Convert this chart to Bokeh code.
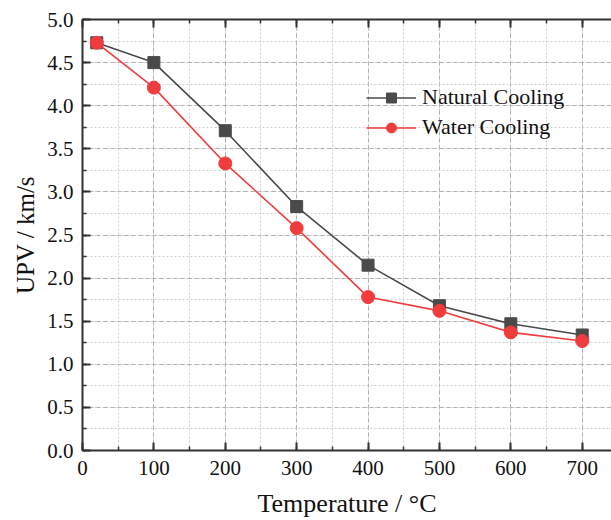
from bokeh.plotting import figure
from bokeh.models import (LinearAxis, Range1d, SingleIntervalTicker, Legend, LegendItem,
                          NumeralTickFormatter, CustomJSTickFormatter)
from bokeh.embed import file_html
from bokeh.resources import INLINE

temperature = [20, 100, 200, 300, 400, 500, 600, 700]
natural_cooling = [4.73, 4.50, 3.71, 2.83, 2.15, 1.68, 1.47, 1.34]
water_cooling = [4.73, 4.21, 3.33, 2.58, 1.78, 1.62, 1.37, 1.27]
series_names = ["Natural Cooling", "Water Cooling"]

FONT = "Liberation Serif"

p = figure(width=611, height=520, output_backend="svg", toolbar_location=None,
           x_range=Range1d(0, 741), y_range=Range1d(0, 5),
           min_border_left=82, min_border_right=0, min_border_top=19, min_border_bottom=68)
p.outline_line_color = None
p.background_fill_color = "white"

p.xaxis.ticker = SingleIntervalTicker(interval=100, num_minor_ticks=2)
p.yaxis.ticker = SingleIntervalTicker(interval=0.5, num_minor_ticks=2)
p.yaxis.formatter = NumeralTickFormatter(format="0.0")

for ax in (p.xaxis[0], p.yaxis[0]):
    ax.axis_line_width = 2
    ax.axis_line_color = "#333333"
    ax.major_tick_line_color = "#333333"
    ax.minor_tick_line_color = "#333333"
    ax.major_tick_line_width = 2
    ax.minor_tick_line_width = 1.5
    ax.major_tick_in = 8
    ax.major_tick_out = 0
    ax.minor_tick_in = 4
    ax.minor_tick_out = 0
    ax.major_label_text_font = FONT
    ax.major_label_text_font_size = "21px"
    ax.major_label_text_color = "#111111"
    ax.axis_label_text_font = FONT
    ax.axis_label_text_font_style = "normal"
    ax.axis_label_text_color = "#111111"

p.xaxis.axis_label = "Temperature / °C"
p.yaxis.axis_label = "UPV / km/s"
p.xaxis.axis_label_text_font_size = "26px"
p.yaxis.axis_label_text_font_size = "25px"
p.xaxis.major_label_standoff = 10
p.yaxis.major_label_standoff = 9
p.xaxis.axis_label_standoff = 11
p.yaxis.axis_label_standoff = 5

top = LinearAxis(ticker=SingleIntervalTicker(interval=100, num_minor_ticks=2),
                 formatter=CustomJSTickFormatter(code="return ''"),
                 axis_line_width=2, axis_line_color="#333333",
                 major_tick_in=8, major_tick_out=0, minor_tick_in=4, minor_tick_out=0,
                 major_tick_line_width=2, minor_tick_line_width=1.5,
                 major_tick_line_color="#333333", minor_tick_line_color="#333333",
                 major_label_standoff=0, major_label_text_font_size="1px")
p.add_layout(top, "above")

for g in (p.xgrid[0], p.ygrid[0]):
    g.grid_line_color = "#b0b0b0"
    g.grid_line_dash = "4 3"
    g.grid_line_width = 1
    g.minor_grid_line_color = "#d0d0d0"
    g.minor_grid_line_dash = "2 2"
    g.minor_grid_line_width = 1

nat_color = "#4a4a4a"
wat_color = "#f03c3c"

l1 = p.line(temperature, natural_cooling, line_color=nat_color, line_width=1.6)
m1 = p.scatter(temperature, natural_cooling, marker="square", size=12, fill_color=nat_color, line_color=nat_color)
l2 = p.line(temperature, water_cooling, line_color=wat_color, line_width=1.6)
m2 = p.scatter(temperature, water_cooling, marker="circle", size=13, fill_color=wat_color, line_color=wat_color)

legend = Legend(items=[LegendItem(label=series_names[0], renderers=[l1, m1]),
                       LegendItem(label=series_names[1], renderers=[l2, m2])],
                location=(284, 310), border_line_color=None, background_fill_alpha=0,
                label_text_font=FONT, label_text_font_size="22px", label_text_color="#111111",
                glyph_width=50, glyph_height=25, label_height=25, spacing=4, padding=0, margin=0,
                label_standoff=6)
p.add_layout(legend, "center")

open("out.html", "w").write(file_html(p, INLINE))
